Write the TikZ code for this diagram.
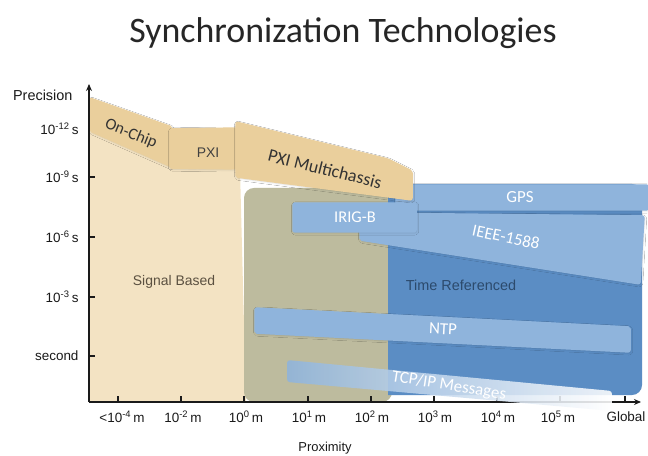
\documentclass[tikz,border=0pt]{standalone}
\usepackage{fontspec}
\setmainfont{Liberation Sans}
\newfontfamily\carlito{Carlito}
\usetikzlibrary{arrows.meta,shadows.blur}

\definecolor{sigbg}{HTML}{F3E3C3}
\definecolor{midbg}{HTML}{BDBB9E}
\definecolor{timebg}{HTML}{5B8DC4}
\definecolor{tanband}{HTML}{EACF9C}
\definecolor{blueband}{HTML}{8FB4DC}
\definecolor{axisink}{HTML}{1A1A1A}
\definecolor{sigtext}{HTML}{5A5040}
\definecolor{timetext}{HTML}{2C4A6C}

\tikzset{
  tanstrip/.style={fill=tanband, draw=tanband, line width=1.5pt,
    rounded corners=2pt,
    blur shadow={shadow blur steps=8, shadow xshift=0.6pt, shadow yshift=-1pt, shadow opacity=14}},
  bluestrip/.style={fill=blueband, draw=blueband, line width=1.5pt,
    rounded corners=2pt,
    blur shadow={shadow blur steps=8, shadow xshift=0.6pt, shadow yshift=-1pt, shadow opacity=14}},
  axisline/.style={draw=axisink, line width=1.6pt},
  tickmark/.style={draw=axisink, line width=1.2pt},
  ylab/.style={anchor=east, text=axisink, font=\fontsize{13.5}{15}\selectfont},
  xlab/.style={anchor=center, text=axisink, font=\fontsize{13.5}{15}\selectfont},
  tanlab/.style={text=black!80, font=\carlito\fontsize{16.5}{18}\selectfont},
  bluelab/.style={text=white, font=\carlito\fontsize{17}{19}\selectfont},
}

\begin{document}
\begin{tikzpicture}[x=1bp, y=-1bp]
  \useasboundingbox[fill=white] (0,0) rectangle (648,456);

  % title
  \node[font=\carlito\fontsize{36}{40}\selectfont, text=black!85] (title) at (343,33) {Synchronization Technologies};

  % background regions
  \fill[sigbg] (90,126) -- (172,164) -- (240,170) -- (246,402) -- (90,402) -- cycle;
  \fill[midbg, rounded corners=10pt] (244,402) -- (244,188) -- (392,188) -- (392,402) -- cycle;
  \fill[timebg] (388,184) [rounded corners=10pt] -- (642,184) -- (642,395) [sharp corners] -- (388,395) -- cycle;

  % signal based strips
  \path[tanstrip] (90,98) -- (172,127) -- (172,167) -- (90,131) -- cycle;
  \path[tanstrip] (170,129) -- (241,128) -- (241,169) -- (170,168) -- cycle;

  % time referenced strips
  \path[bluestrip] (396,185) -- (648,185) -- (648,210) -- (396,210) -- cycle;
  \path[bluestrip] (360,213) -- (644,216) -- (640,284) -- (360,240) -- cycle;
  \path[bluestrip] (293,203) -- (416,203) -- (416,232) -- (293,232) -- cycle;
  \path[tanstrip] (236,122) -- (388,159) -- (412,171) -- (412,200) -- (236,177) -- cycle;
  \path[bluestrip] (255,308) -- (630,327) -- (630,352) -- (255,333) -- cycle;

  % region captions
  \node[text=sigtext, font=\fontsize{14}{16}\selectfont] (sig) at (174,282) {Signal Based};
  \node[text=timetext, font=\fontsize{14.5}{16}\selectfont] (tref) at (461,285) {Time Referenced};

  % axes
  \coordinate (origin) at (89,402);
  \coordinate (ytop) at (89,84);
  \coordinate (xend) at (641,402);
  \draw[axisline, -{Stealth[length=7pt,width=6pt]}] (origin) -- (ytop);
  \draw[axisline, -{Stealth[length=7pt,width=6pt]}] (origin) -- (xend);
  \foreach \yy in {177,237,297,356} \draw[tickmark] (89,\yy) -- (95,\yy);
  \foreach \xx in {118,181,244,308,371,434,497,560,625} \draw[tickmark] (\xx,402) -- (\xx,396);

  % TCP/IP strip, laid over the axis and fading out to the right
  \path[left color=blueband, right color=white, opacity=0.88, rounded corners=3pt]
    (287,360) -- (612,391) -- (612,411) -- (287,382) -- cycle;

  % strip labels
  \node[tanlab, rotate=-22] (onchip) at (131,134) {On-Chip};
  \node[text=black!75, font=\fontsize{14}{16}\selectfont] (pxi) at (208,153) {PXI};
  \node[tanlab, font=\carlito\fontsize{18}{20}\selectfont, rotate=-14] (pxim) at (325,169) {PXI Multichassis};
  \node[bluelab] (gps) at (520,197) {GPS};
  \node[bluelab, font=\carlito\fontsize{16.5}{18}\selectfont] (irig) at (355,217) {IRIG-B};
  \node[bluelab, rotate=-12] (ieee) at (506,237) {IEEE-1588};
  \node[bluelab, rotate=-3] (ntp) at (443,329) {NTP};
  \node[bluelab, rotate=-9] (tcp) at (449,386) {TCP/IP Messages};

  % axis labels
  \node[ylab, font=\fontsize{14.5}{16}\selectfont] (prec) at (76,95) {Precision};
  \node[ylab] (y12) at (82,129) {10\textsuperscript{-12}\,s};
  \node[ylab] (y9) at (82,177) {10\textsuperscript{-9}\,s};
  \node[ylab] (y6) at (82,237) {10\textsuperscript{-6}\,s};
  \node[ylab] (y3) at (82,297) {10\textsuperscript{-3}\,s};
  \node[ylab] (ysec) at (82,356) {second};

  \node[xlab] (x4) at (122,417) {<10\textsuperscript{-4}\,m};
  \node[xlab] (x2) at (183,417) {10\textsuperscript{-2}\,m};
  \node[xlab] (x0) at (246,417) {10\textsuperscript{0}\,m};
  \node[xlab] (x1) at (309,417) {10\textsuperscript{1}\,m};
  \node[xlab] (xx2) at (372,417) {10\textsuperscript{2}\,m};
  \node[xlab] (xx3) at (435,417) {10\textsuperscript{3}\,m};
  \node[xlab] (xx4) at (498,417) {10\textsuperscript{4}\,m};
  \node[xlab] (xx5) at (558,417) {10\textsuperscript{5}\,m};
  \node[xlab] (glob) at (626,417) {Global};
  \node[xlab, font=\fontsize{13}{15}\selectfont] (prox) at (325,448) {Proximity};
\end{tikzpicture}
\end{document}
